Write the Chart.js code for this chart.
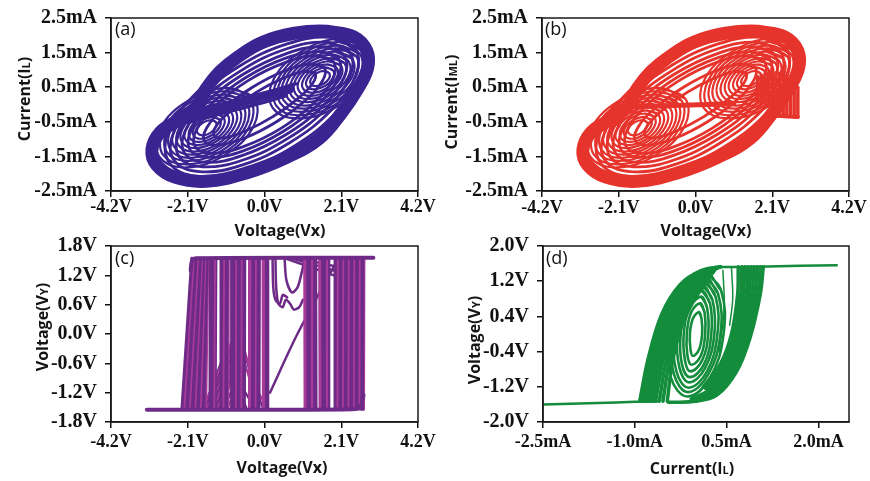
<!DOCTYPE html>
<html>
<head>
<meta charset="utf-8">
<script src="https://cdn.jsdelivr.net/npm/chart.js@4.4.1/dist/chart.umd.min.js"></script>
<style>
  html, body { margin: 0; padding: 0; background: #fff; }
  #wrap { position: relative; width: 870px; height: 481px; overflow: hidden; }
  #wrap canvas { position: absolute; left: 0; top: 0; }
</style>
</head>
<body>
<div id="wrap">
  <canvas id="chartA" width="870" height="481"></canvas>
  <canvas id="chartB" width="870" height="481"></canvas>
  <canvas id="chartC" width="870" height="481"></canvas>
  <canvas id="chartD" width="870" height="481"></canvas>
</div>
<script>
// tick labels
const vxTicks = [-4.2, -2.1, 0.0, 2.1, 4.2];
const iTicks = [-2.5, -1.5, -0.5, 0.5, 1.5, 2.5];
const vyTicksC = [-1.8, -1.2, -0.6, 0.0, 0.6, 1.2, 1.8];
const vyTicksD = [-2.0, -1.2, -0.4, 0.4, 1.2, 2.0];
const ilTicksD = [-2.5, -1.0, 0.5, 2.0];

// (a) Vx (V) vs IL (mA)
const aEnvelope = [[1.70,2.12],[2.45,1.95],[2.80,1.55],[2.82,1.05],[2.55,0.45],[2.10,-0.25],[1.50,-0.98],[0.62,-1.52],[-0.50,-1.98],[-1.60,-2.22],[-2.45,-2.10],[-2.95,-1.75],[-3.08,-1.30],[-2.85,-0.80],[-2.35,-0.45],[-1.85,-0.05],[-1.60,0.45],[-1.22,0.95],[-0.72,1.38],[-0.05,1.80],[0.82,2.06]];
const aBigLoops = [
  [[2.60,1.69],[1.86,2.07],[0.62,1.90],[-0.79,1.22],[-1.98,0.21],[-2.65,-0.85],[-2.60,-1.69],[-1.86,-2.07],[-0.62,-1.90],[0.79,-1.22],[1.98,-0.21],[2.65,0.85]],
  [[2.48,1.61],[1.79,1.94],[0.62,1.75],[-0.71,1.09],[-1.85,0.14],[-2.50,-0.85],[-2.48,-1.61],[-1.79,-1.94],[-0.62,-1.75],[0.71,-1.09],[1.85,-0.14],[2.50,0.85]],
  [[2.33,1.52],[1.70,1.80],[0.61,1.61],[-0.64,0.98],[-1.72,0.09],[-2.34,-0.82],[-2.33,-1.52],[-1.70,-1.80],[-0.61,-1.61],[0.64,-0.98],[1.72,-0.09],[2.34,0.82]],
  [[2.18,1.42],[1.60,1.67],[0.60,1.47],[-0.57,0.88],[-1.59,0.05],[-2.18,-0.79],[-2.18,-1.42],[-1.60,-1.67],[-0.60,-1.47],[0.57,-0.88],[1.59,-0.05],[2.18,0.79]],
  [[2.03,1.32],[1.50,1.53],[0.58,1.34],[-0.51,0.78],[-1.45,0.02],[-2.01,-0.75],[-2.03,-1.32],[-1.50,-1.53],[-0.58,-1.34],[0.51,-0.78],[1.45,-0.02],[2.01,0.75]],
  [[1.89,1.23],[1.41,1.41],[0.56,1.21],[-0.45,0.69],[-1.33,-0.02],[-1.86,-0.72],[-1.89,-1.23],[-1.41,-1.41],[-0.56,-1.21],[0.45,-0.69],[1.33,0.02],[1.86,0.72]],
  [[1.64,1.06],[1.25,1.17],[0.54,0.97],[-0.33,0.50],[-1.10,-0.10],[-1.58,-0.67],[-1.64,-1.06],[-1.25,-1.17],[-0.54,-0.97],[0.33,-0.50],[1.10,0.10],[1.58,0.67]],
  [[1.38,0.90],[1.08,0.96],[0.49,0.75],[-0.23,0.35],[-0.89,-0.15],[-1.31,-0.60],[-1.38,-0.90],[-1.08,-0.96],[-0.49,-0.75],[0.23,-0.35],[0.89,0.15],[1.31,0.60]]
];
const aRightRings = [
  [[1.77,0.91],[1.63,0.97],[1.42,0.90],[1.27,0.74],[1.27,0.59],[1.41,0.53],[1.62,0.60],[1.77,0.76]],
  [[1.88,0.98],[1.67,1.07],[1.38,0.96],[1.17,0.74],[1.16,0.52],[1.37,0.44],[1.66,0.54],[1.87,0.76]],
  [[1.98,1.05],[1.72,1.16],[1.34,1.03],[1.07,0.73],[1.06,0.45],[1.32,0.34],[1.70,0.47],[1.97,0.77]],
  [[2.09,1.12],[1.76,1.25],[1.30,1.09],[0.96,0.73],[0.95,0.38],[1.28,0.25],[1.74,0.41],[2.08,0.77]],
  [[2.19,1.19],[1.81,1.34],[1.26,1.15],[0.86,0.73],[0.85,0.31],[1.23,0.16],[1.78,0.35],[2.18,0.77]],
  [[2.30,1.25],[1.86,1.44],[1.22,1.22],[0.76,0.72],[0.74,0.25],[1.19,0.07],[1.82,0.29],[2.28,0.78]],
  [[2.40,1.32],[1.90,1.53],[1.18,1.28],[0.65,0.72],[0.64,0.18],[1.14,-0.03],[1.86,0.22],[2.39,0.78]],
  [[2.51,1.39],[1.95,1.62],[1.14,1.34],[0.55,0.72],[0.53,0.11],[1.10,-0.12],[1.90,0.16],[2.49,0.78]],
  [[2.61,1.46],[1.99,1.71],[1.09,1.40],[0.45,0.71],[0.43,0.04],[1.05,-0.21],[1.95,0.10],[2.59,0.79]],
  [[2.72,1.53],[2.04,1.81],[1.05,1.47],[0.35,0.71],[0.32,-0.03],[1.00,-0.31],[1.99,0.03],[2.69,0.79]],
  [[2.82,1.59],[2.08,1.90],[1.01,1.53],[0.24,0.71],[0.22,-0.09],[0.96,-0.40],[2.03,-0.03],[2.80,0.79]]
];
const aLeftRings = [
  [[-1.33,-0.51],[-1.47,-0.45],[-1.68,-0.52],[-1.83,-0.68],[-1.83,-0.83],[-1.69,-0.89],[-1.48,-0.82],[-1.33,-0.66]],
  [[-1.22,-0.44],[-1.43,-0.36],[-1.72,-0.46],[-1.93,-0.68],[-1.94,-0.90],[-1.73,-0.99],[-1.44,-0.88],[-1.23,-0.66]],
  [[-1.12,-0.37],[-1.38,-0.26],[-1.76,-0.39],[-2.03,-0.69],[-2.04,-0.97],[-1.78,-1.08],[-1.40,-0.95],[-1.13,-0.65]],
  [[-1.01,-0.30],[-1.34,-0.17],[-1.80,-0.33],[-2.14,-0.69],[-2.15,-1.04],[-1.82,-1.17],[-1.36,-1.01],[-1.02,-0.65]],
  [[-0.91,-0.23],[-1.29,-0.08],[-1.84,-0.27],[-2.24,-0.69],[-2.25,-1.11],[-1.87,-1.26],[-1.32,-1.07],[-0.92,-0.65]],
  [[-0.80,-0.17],[-1.25,0.02],[-1.88,-0.21],[-2.34,-0.70],[-2.36,-1.17],[-1.92,-1.36],[-1.28,-1.14],[-0.82,-0.64]],
  [[-0.70,-0.10],[-1.20,0.11],[-1.92,-0.14],[-2.45,-0.70],[-2.46,-1.24],[-1.96,-1.45],[-1.24,-1.20],[-0.71,-0.64]],
  [[-0.59,-0.03],[-1.16,0.20],[-1.96,-0.08],[-2.55,-0.70],[-2.57,-1.31],[-2.01,-1.54],[-1.20,-1.26],[-0.61,-0.64]],
  [[-0.49,0.04],[-1.11,0.29],[-2.01,-0.02],[-2.65,-0.71],[-2.67,-1.38],[-2.05,-1.63],[-1.15,-1.32],[-0.51,-0.63]],
  [[-0.38,0.11],[-1.06,0.39],[-2.05,0.05],[-2.75,-0.71],[-2.78,-1.45],[-2.10,-1.73],[-1.11,-1.39],[-0.41,-0.63]],
  [[-0.28,0.17],[-1.02,0.48],[-2.09,0.11],[-2.86,-0.71],[-2.88,-1.51],[-2.14,-1.82],[-1.07,-1.45],[-0.30,-0.63]]
];
const aMiddle = [
  [[-2.05,-0.35],[-1.40,-0.15],[-0.60,0.08],[0.10,0.28],[0.70,0.45]],
  [[-1.90,-0.20],[-1.20,0.00],[-0.40,0.22],[0.30,0.42],[0.85,0.60]],
  [[-2.10,-0.52],[-1.40,-0.32],[-0.60,-0.10],[0.10,0.10],[0.60,0.26]]
];

// (b) Vx (V) vs IML (mA): same scrolls, plus the flat and stepped parts
const bMiddle = [[-2.26,-0.08],[-1.50,-0.06],[-0.60,-0.03],[0.30,0.00],[1.05,0.03]];
const bLeftBars = [[-2.26,-0.55,-0.04],[-2.18,-0.58,0.00],[-2.10,-0.62,0.02]];
const bRightBars = [[1.70,0.05,0.80],[1.80,0.03,0.85],[1.90,0.02,0.88],[2.00,0.00,0.90],[2.10,-0.30,0.92],[2.20,-0.32,0.92],[2.30,-0.33,0.90],[2.40,-0.34,0.88],[2.50,-0.35,0.85],[2.60,-0.35,0.80],[2.70,-0.36,0.70],[2.80,-0.36,0.50]];
const bBlockBase = [[2.10,-0.32],[2.80,-0.36]];

// (c) Vx (V) vs VY (V)
const cHigh = 1.55, cLow = -1.54;
const cTopLine = [[-2.02,1.30],[-1.98,1.50],[-1.85,1.55],[2.98,1.56]];
const cBottomLine = [[-3.22,-1.55],[2.40,-1.54],[2.62,-1.48],[2.71,-1.25]];
const cEdges = [ // [x at top, x at bottom]
  [-1.99,-2.26],[-1.95,-2.21],[-1.91,-2.16],[-1.87,-2.11],[-1.83,-2.06],[-1.79,-2.01],[-1.75,-1.96],[-1.72,-1.91],[-1.69,-1.86],[-1.66,-1.81],[-1.63,-1.76],[-1.60,-1.71],[-1.57,-1.66],[-1.55,-1.61],
  [-1.47,-1.49],[-1.42,-1.44],[-1.37,-1.39],[-1.33,-1.35],
  [-1.17,-1.19],[-1.12,-1.14],[-1.07,-1.09],[-1.02,-1.04],[-0.99,-1.00],
  [-0.89,-0.90],[-0.84,-0.85],[-0.79,-0.80],[-0.74,-0.75],[-0.69,-0.70],[-0.64,-0.65],[-0.59,-0.60],[-0.54,-0.55],
  [-0.40,-0.41],[-0.35,-0.36],[-0.30,-0.31],[-0.25,-0.26],[-0.20,-0.21],[-0.14,-0.15],
  [-0.04,-0.03],[0.02,0.03],[0.08,0.09],
  [1.10,1.11],[1.16,1.17],[1.22,1.23],[1.28,1.29],[1.34,1.35],[1.40,1.41],
  [1.51,1.52],[1.57,1.58],[1.63,1.64],[1.69,1.70],[1.75,1.76],
  [1.94,1.93],[1.99,1.98],[2.04,2.03],[2.09,2.08],[2.14,2.13],[2.19,2.18],[2.24,2.23],[2.29,2.28],[2.34,2.33],[2.39,2.38],[2.44,2.43],[2.49,2.48],[2.54,2.53],[2.59,2.58],[2.64,2.63],[2.69,2.68],[2.72,2.71]
];
const cFan = [
  [[-1.68,-1.50],[-0.72,0.15]],[[-1.62,-1.50],[-0.74,0.10]],[[-1.58,-1.50],[-0.72,0.15]],[[-1.54,-1.50],[-0.71,0.08]],
  [[-1.50,-1.50],[-0.70,0.05]],[[-1.45,-1.51],[-0.69,-0.05]],[[-1.40,-1.52],[-0.68,-0.15]],[[-1.35,-1.52],[-0.67,-0.22]],
  [[-1.30,-1.52],[-0.66,-0.30]],[[-1.25,-1.52],[-0.64,-0.38]],[[-1.20,-1.52],[-0.62,-0.45]],[[-1.10,-1.52],[-0.60,-0.60]],
  [[-0.72,0.15],[-0.30,-1.00],[0.05,-1.50]],[[-0.70,0.00],[-0.35,-0.90],[-0.05,-1.50]],[[-0.69,-0.20],[-0.40,-0.95],[-0.15,-1.50]],
  [[-0.90,-1.50],[-0.55,-0.90]],[[-1.00,-1.50],[-0.62,-0.80]],
  [[-1.60,-1.50],[-1.00,-0.60],[-0.50,-1.50]],[[-1.45,-1.50],[-1.00,-0.90],[-0.60,-1.50]],[[-1.65,-1.50],[-1.10,-0.40],[-0.30,-1.50]]
];
const cWiggles = [
  [[0.30,1.54],[0.32,0.95],[0.38,0.62],[0.50,0.55],[0.58,0.70],[0.70,0.62],[0.80,0.50],[0.95,0.55],[1.05,0.70]],
  [[0.22,1.54],[0.24,0.95],[0.30,0.70],[0.42,0.62],[0.50,0.80],[0.62,0.75]],
  [[0.55,1.54],[0.60,1.10],[0.75,0.85],[0.90,0.95],[1.00,1.20],[1.10,1.54]],
  [[0.60,1.54],[1.90,1.20]],[[0.80,1.54],[1.90,1.30]],[[1.00,1.54],[1.95,1.38]],
  [[0.15,-1.20],[0.90,0.00],[1.95,1.45]]
];

// (d) IL (mA) vs VY (V)
const dBottomLine = [[-2.50,-1.60],[-1.60,-1.57],[-1.00,-1.54],[-0.60,-1.53]];
const dTopLine = [[0.30,1.52],[1.00,1.53],[1.70,1.55],[2.30,1.56]];
const dRise = [
  [[-0.92,-1.53],[-0.78,-0.55],[-0.56,0.45],[-0.26,1.12],[0.08,1.44],[0.40,1.53]],
  [[-0.88,-1.53],[-0.74,-0.55],[-0.52,0.43],[-0.23,1.10],[0.09,1.42],[0.40,1.52]],
  [[-0.84,-1.53],[-0.70,-0.56],[-0.48,0.41],[-0.20,1.06],[0.11,1.39],[0.39,1.52]],
  [[-0.80,-1.53],[-0.66,-0.58],[-0.45,0.38],[-0.17,1.03],[0.12,1.37],[0.38,1.52]],
  [[-0.76,-1.53],[-0.62,-0.59],[-0.42,0.35],[-0.15,1.00],[0.13,1.35],[0.37,1.52]],
  [[-0.71,-1.53],[-0.58,-0.60],[-0.38,0.30],[-0.12,0.96],[0.14,1.31],[0.35,1.51]],
  [[-0.66,-1.53],[-0.54,-0.62],[-0.35,0.25],[-0.10,0.92],[0.15,1.28],[0.33,1.50]],
  [[-0.60,-1.53],[-0.49,-0.64],[-0.31,0.21],[-0.07,0.87],[0.16,1.24],[0.31,1.46]],
  [[-0.54,-1.53],[-0.44,-0.66],[-0.28,0.16],[-0.05,0.82],[0.16,1.20],[0.29,1.42]],
  [[-0.47,-1.53],[-0.39,-0.68],[-0.25,0.12],[-0.03,0.78],[0.17,1.16]]
];
const dFall = [
  [[1.10,1.53],[1.05,0.90],[0.88,-0.10],[0.66,-0.86],[0.34,-1.39],[0.00,-1.53],[-0.45,-1.55]],
  [[1.05,1.53],[1.01,0.90],[0.85,-0.10],[0.63,-0.85],[0.32,-1.37],[-0.02,-1.52]],
  [[1.00,1.53],[0.96,0.90],[0.81,-0.10],[0.60,-0.83],[0.29,-1.35],[-0.04,-1.51]],
  [[0.95,1.53],[0.91,0.90],[0.77,-0.10],[0.56,-0.81],[0.26,-1.33],[-0.06,-1.50]],
  [[0.90,1.53],[0.86,0.90],[0.73,-0.09],[0.53,-0.78],[0.23,-1.30],[-0.07,-1.49]],
  [[0.85,1.53],[0.82,0.90],[0.69,-0.08],[0.49,-0.76],[0.20,-1.28],[-0.08,-1.48]],
  [[0.80,1.53],[0.77,0.90],[0.65,-0.06],[0.46,-0.73],[0.18,-1.26]],
  [[0.75,1.53],[0.73,0.90],[0.62,-0.04],[0.43,-0.71],[0.15,-1.23]],
  [[0.69,1.53],[0.68,0.90],[0.58,0.00],[0.40,-0.68],[0.12,-1.20]]
];
const dStrays = [[[0.58,1.50],[0.60,0.80],[0.55,0.20]], [[0.44,1.45],[0.46,0.60],[0.38,-0.40]]];
const dInner = [
  [[0.14,1.42],[0.41,0.99],[0.45,0.00],[0.23,-0.99],[-0.14,-1.42],[-0.41,-0.99],[-0.45,0.00],[-0.23,0.99]],
  [[0.13,1.32],[0.36,0.92],[0.40,0.00],[0.20,-0.92],[-0.13,-1.32],[-0.36,-0.92],[-0.40,0.00],[-0.20,0.92]],
  [[0.12,1.22],[0.32,0.85],[0.35,0.00],[0.18,-0.85],[-0.12,-1.22],[-0.32,-0.85],[-0.35,0.00],[-0.18,0.85]],
  [[0.11,1.10],[0.27,0.77],[0.30,0.00],[0.15,-0.77],[-0.11,-1.10],[-0.27,-0.77],[-0.30,0.00],[-0.15,0.77]],
  [[0.10,0.98],[0.23,0.69],[0.25,0.00],[0.13,-0.69],[-0.10,-0.98],[-0.23,-0.69],[-0.25,0.00],[-0.13,0.69]],
  [[0.09,0.85],[0.18,0.60],[0.20,0.00],[0.10,-0.60],[-0.09,-0.85],[-0.18,-0.60],[-0.20,0.00],[-0.10,0.60]],
  [[0.07,0.70],[0.14,0.49],[0.15,0.00],[0.08,-0.49],[-0.07,-0.70],[-0.14,-0.49],[-0.15,0.00],[-0.08,0.49]],
  [[0.05,0.50],[0.09,0.35],[0.10,0.00],[0.05,-0.35],[-0.05,-0.50],[-0.09,-0.35],[-0.10,0.00],[-0.05,0.35]]
];

const colA = '#3a2491', colB = '#e6342c', colC = '#6d2b87', colC2 = '#a83a9a', colD = '#138c3c';

function path(points, color, width, tension) {
  return {
    data: points.map(p => ({x: p[0], y: p[1]})),
    showLine: true, borderColor: color, borderWidth: width,
    pointRadius: 0, tension: tension || 0, fill: false,
    borderCapStyle: 'round', borderJoinStyle: 'round'
  };
}
function loop(points, color, width) {
  return path(points.concat(points.slice(0, 2)), color, width, 0.4);
}

function fmt(v, unit) { return v.toFixed(1) + unit; }

function drawTitle(ctx, parts, x, y, rot) {
  const big = 'bold 16px "Open Sans", sans-serif';
  const small = 'bold 11px "Open Sans", sans-serif';
  let w = 0;
  parts.forEach(([t, s]) => { ctx.font = s ? small : big; w += ctx.measureText(t).width; });
  ctx.save();
  ctx.translate(x, y);
  ctx.rotate(rot);
  ctx.textBaseline = 'alphabetic';
  ctx.fillStyle = '#151515';
  let cx = -w / 2;
  parts.forEach(([t, s]) => {
    ctx.font = s ? small : big;
    ctx.fillText(t, cx, 6);
    cx += ctx.measureText(t).width;
  });
  ctx.restore();
}

const panelDecor = {
  id: 'panelDecor',
  afterDraw(chart, args, o) {
    const {ctx, chartArea: a} = chart;
    ctx.save();
    ctx.strokeStyle = '#1a1a1a';
    ctx.lineWidth = 1.5;
    ctx.strokeRect(a.left, a.top, a.right - a.left, a.bottom - a.top);
    ctx.fillStyle = '#111';
    ctx.font = '18px "Open Sans", sans-serif';
    ctx.textBaseline = 'top';
    ctx.fillText(o.tag, a.left + o.tagAt[0], a.top + o.tagAt[1]);
    drawTitle(ctx, o.xTitle, o.xTitleAt[0], o.xTitleAt[1], 0);
    drawTitle(ctx, o.yTitle, o.yTitleAt[0], o.yTitleAt[1], -Math.PI / 2);
    ctx.restore();
  }
};

function axis(min, max, ticks, unit, size, pad, fit) {
  return {
    type: 'linear', min: min, max: max,
    afterBuildTicks: s => { s.ticks = ticks.map(v => ({value: v})); },
    afterFit: fit,
    grid: { drawOnChartArea: false, drawTicks: true, tickLength: 6, color: '#111', lineWidth: 1.5 },
    border: { display: true, color: '#111', width: 1.5 },
    ticks: {
      color: '#111', autoSkip: false, maxRotation: 0, padding: pad,
      font: { family: '"Liberation Serif", serif', weight: 'bold', size: size, lineHeight: 1 },
      callback: v => fmt(v, unit)
    }
  };
}

function makeChart(id, box, datasets, x, y, decor) {
  const yW = 100, xH = box.xH;
  new Chart(document.getElementById(id), {
    type: 'scatter',
    data: { datasets: datasets },
    options: {
      responsive: false, animation: false, devicePixelRatio: 1,
      layout: { padding: { left: box.l - yW, top: box.t, right: 870 - box.r, bottom: 481 - box.b - xH } },
      scales: {
        x: axis(x.min, x.max, x.ticks, x.unit, 18, box.xPad, s => { s.height = xH; }),
        y: axis(y.min, y.max, y.ticks, y.unit, 20, 8, s => { s.width = yW; })
      },
      plugins: { legend: { display: false }, tooltip: { enabled: false }, panelDecor: decor }
    },
    plugins: [panelDecor]
  });
}

function scrollSets(col) {
  return [loop(aEnvelope, col, 13)]
    .concat(aBigLoops.map(l => loop(l, col, 2.8)))
    .concat(aRightRings.map(l => loop(l, col, 2.2)))
    .concat(aLeftRings.map(l => loop(l, col, 2.2)));
}

// panel (a)
const dsA = scrollSets(colA)
  .concat(aMiddle.map((l, i) => path(l, colA, i === 0 ? 9 : 3.5, 0.4)));
makeChart('chartA', {l: 111, t: 15, r: 418, b: 191, xH: 50, xPad: 1}, dsA,
  {min: -4.2, max: 4.2, ticks: vxTicks, unit: 'V'},
  {min: -2.5, max: 2.5, ticks: iTicks, unit: 'mA'},
  {tag: '(a)', tagAt: [4, 3], xTitle: [['Voltage(Vx)']], xTitleAt: [280, 230],
   yTitle: [['Current(I'], ['L', true], [')']], yTitleAt: [24, 99]});

// panel (b)
const dsB = scrollSets(colB)
  .concat([path(bMiddle, colB, 5), path(bBlockBase, colB, 4)])
  .concat(bLeftBars.map(v => path([[v[0], v[1]], [v[0], v[2]]], colB, 3.5)))
  .concat(bRightBars.map(v => path([[v[0], v[1]], [v[0], v[2]]], colB, 3.5)));
makeChart('chartB', {l: 542, t: 15, r: 849, b: 191, xH: 50, xPad: 2}, dsB,
  {min: -4.2, max: 4.2, ticks: vxTicks, unit: 'V'},
  {min: -2.5, max: 2.5, ticks: iTicks, unit: 'mA'},
  {tag: '(b)', tagAt: [3, 3], xTitle: [['Voltage(Vx)']], xTitleAt: [706, 230],
   yTitle: [['Current(I'], ['ML', true], [')']], yTitleAt: [451, 102]});

// panel (c)
const dsC = [path(cTopLine, colC, 4, 0.3), path(cBottomLine, colC, 4, 0.3)]
  .concat(cEdges.map((e, i) => path([[e[0], cHigh], [e[1], cLow]], i % 3 === 1 ? colC2 : colC, 3)))
  .concat(cFan.map((l, i) => path(l, i % 2 ? colC : colC2, 2.2)))
  .concat(cWiggles.map(l => path(l, colC, 2.5, 0.3)));
makeChart('chartC', {l: 111, t: 246, r: 418, b: 422, xH: 56, xPad: 5}, dsC,
  {min: -4.2, max: 4.2, ticks: vxTicks, unit: 'V'},
  {min: -1.8, max: 1.8, ticks: vyTicksC, unit: 'V'},
  {tag: '(c)', tagAt: [4, 4], xTitle: [['Voltage(Vx)']], xTitleAt: [282, 467],
   yTitle: [['Voltage(V'], ['Y', true], [')']], yTitleAt: [42, 327]});

// panel (d)
const dsD = [path(dBottomLine, colD, 2.5, 0.3), path(dTopLine, colD, 2.5, 0.3)]
  .concat(dRise.map(l => path(l, colD, 3.5, 0.35)))
  .concat(dFall.map(l => path(l, colD, 3.5, 0.35)))
  .concat(dStrays.map(l => path(l, colD, 1.5, 0.35)))
  .concat(dInner.map(l => loop(l, colD, 2.6)));
makeChart('chartD', {l: 543, t: 246, r: 849, b: 422, xH: 56, xPad: 5}, dsD,
  {min: -2.5, max: 2.5, ticks: ilTicksD, unit: 'mA'},
  {min: -2.0, max: 2.0, ticks: vyTicksD, unit: 'V'},
  {tag: '(d)', tagAt: [3, 4], xTitle: [['Current(I'], ['L', true], [')']], xTitleAt: [692, 468],
   yTitle: [['Voltage(V'], ['Y', true], [')']], yTitleAt: [474, 340]});
</script>
</body>
</html>
